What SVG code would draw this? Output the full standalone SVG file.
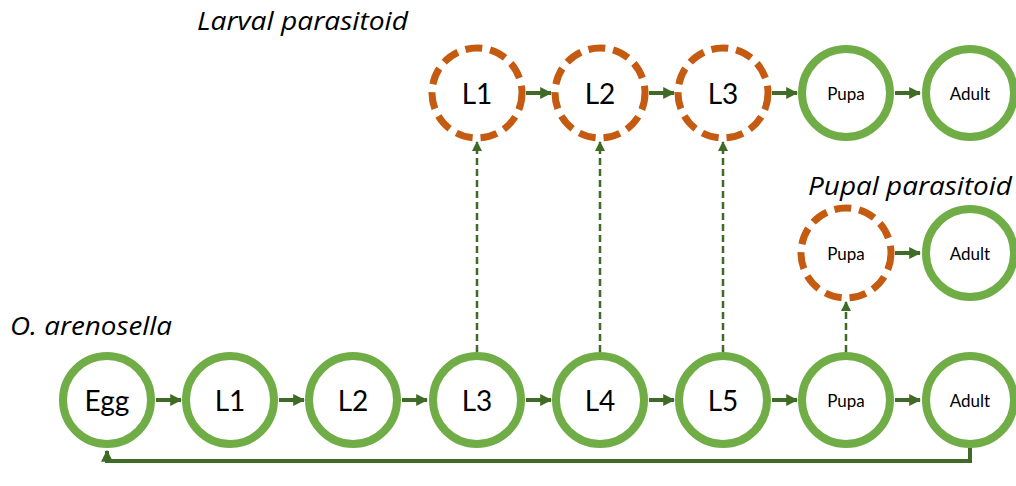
<svg xmlns="http://www.w3.org/2000/svg" width="1016" height="486" viewBox="0 0 1016 486">
<defs>
<style>
.g{fill:#fff;stroke:#70ad47;stroke-width:8}
.o{fill:#fff;stroke:#c55a11;stroke-width:7;stroke-dasharray:17 8}
.t{font-family:Lato,"Open Sans",sans-serif;font-size:28px;fill:#000;text-anchor:middle;dominant-baseline:central}
.s{font-family:Lato,"Open Sans",sans-serif;font-size:17px;fill:#000;text-anchor:middle;dominant-baseline:central}
.h{font-family:"Open Sans",Lato,sans-serif;font-size:26px;font-style:italic;fill:#000}
.a{stroke:#3f6b27;stroke-width:4;fill:none}
.d{stroke:#3f6b27;stroke-width:2.5;stroke-dasharray:7 4;fill:none}
</style>
<marker id="ah" viewBox="0 0 10 10" refX="9" refY="5" markerWidth="3" markerHeight="3" orient="auto" markerUnits="strokeWidth"><path d="M0,0 L10,5 L0,10 z" fill="#3f6b27"/></marker>
<marker id="ahs" viewBox="0 0 10 10" refX="9" refY="5" markerWidth="4" markerHeight="4" orient="auto" markerUnits="strokeWidth"><path d="M0,0 L10,5 L0,10 z" fill="#3f6b27"/></marker>
</defs>
<rect width="1016" height="486" fill="#fff"/>
<text class="h" x="197" y="30" textLength="211" lengthAdjust="spacingAndGlyphs">Larval parasitoid</text>
<text class="h" x="808" y="195" textLength="204" lengthAdjust="spacingAndGlyphs">Pupal parasitoid</text>
<text class="h" x="10" y="335" textLength="162" lengthAdjust="spacingAndGlyphs">O. arenosella</text>
<g id="connectors">
<path class="a" d="M156,400 H181" marker-end="url(#ah)"/>
<path class="a" d="M279,400 H304" marker-end="url(#ah)"/>
<path class="a" d="M402,400 H427" marker-end="url(#ah)"/>
<path class="a" d="M526,400 H551" marker-end="url(#ah)"/>
<path class="a" d="M649,400 H674" marker-end="url(#ah)"/>
<path class="a" d="M772,400 H797" marker-end="url(#ah)"/>
<path class="a" d="M895,400 H920" marker-end="url(#ah)"/>
<path class="a" d="M526,93 H551" marker-end="url(#ah)"/>
<path class="a" d="M649,93 H674" marker-end="url(#ah)"/>
<path class="a" d="M772,93 H797" marker-end="url(#ah)"/>
<path class="a" d="M895,93 H920" marker-end="url(#ah)"/>
<path class="a" d="M895,253 H920" marker-end="url(#ah)"/>
<path class="a" d="M970,448 V461 H107 V451" marker-end="url(#ah)"/>
<path class="d" d="M477,352 V142" marker-end="url(#ahs)"/>
<path class="d" d="M600,352 V142" marker-end="url(#ahs)"/>
<path class="d" d="M723,352 V142" marker-end="url(#ahs)"/>
<path class="d" d="M846,352 V302" marker-end="url(#ahs)"/>
</g>
<g id="n-egg"><circle class="g" cx="107" cy="400" r="44"/><text class="t" x="107" y="400">Egg</text></g>
<g id="n-l1"><circle class="g" cx="230" cy="400" r="44"/><text class="t" x="230" y="400">L1</text></g>
<g id="n-l2"><circle class="g" cx="353" cy="400" r="44"/><text class="t" x="353" y="400">L2</text></g>
<g id="n-l3"><circle class="g" cx="477" cy="400" r="44"/><text class="t" x="477" y="400">L3</text></g>
<g id="n-l4"><circle class="g" cx="600" cy="400" r="44"/><text class="t" x="600" y="400">L4</text></g>
<g id="n-l5"><circle class="g" cx="723" cy="400" r="44"/><text class="t" x="723" y="400">L5</text></g>
<g id="n-pupa"><circle class="g" cx="846" cy="400" r="44"/><text class="s" x="846" y="400">Pupa</text></g>
<g id="n-adult"><circle class="g" cx="970" cy="400" r="44"/><text class="s" x="970" y="400">Adult</text></g>
<g id="lp-l1"><circle class="o" cx="477" cy="93" r="45"/><text class="t" x="477" y="93">L1</text></g>
<g id="lp-l2"><circle class="o" cx="600" cy="93" r="45"/><text class="t" x="600" y="93">L2</text></g>
<g id="lp-l3"><circle class="o" cx="723" cy="93" r="45"/><text class="t" x="723" y="93">L3</text></g>
<g id="lp-pupa"><circle class="g" cx="846" cy="93" r="44"/><text class="s" x="846" y="93">Pupa</text></g>
<g id="lp-adult"><circle class="g" cx="970" cy="93" r="44"/><text class="s" x="970" y="93">Adult</text></g>
<g id="pp-pupa"><circle class="o" cx="846" cy="253" r="45"/><text class="s" x="846" y="253">Pupa</text></g>
<g id="pp-adult"><circle class="g" cx="970" cy="253" r="44"/><text class="s" x="970" y="253">Adult</text></g>
</svg>
